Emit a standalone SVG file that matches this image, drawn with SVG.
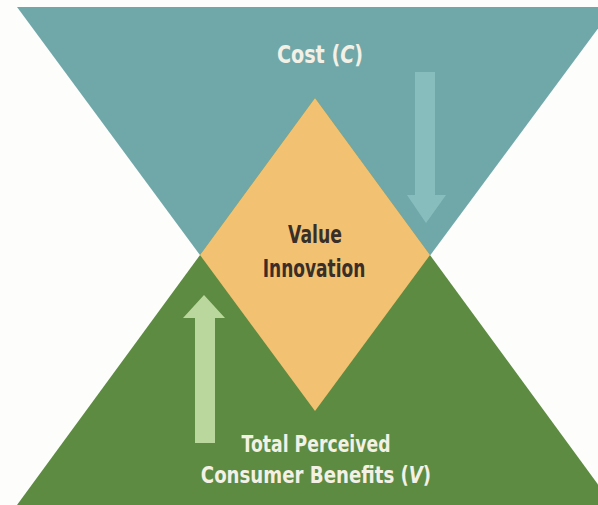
<svg xmlns="http://www.w3.org/2000/svg" width="598" height="505" viewBox="0 0 598 505">
  <style>
    .lbl { font-family: "DejaVu Sans", "Liberation Sans", sans-serif; font-weight: bold; text-anchor: middle; }
    .light { fill: #f3f0e6; }
    .dark { fill: #3a2e28; }
  </style>
  <rect x="0" y="0" width="598" height="505" fill="#fdfdfc"/>
  <g id="cost-triangle">
    <polygon points="17,7 614,7 315,411" fill="#70a8a9"/>
  </g>
  <g id="benefits-triangle">
    <polygon points="17,505 613,505 315,98" fill="#5c8b41"/>
  </g>
  <g id="value-innovation">
    <polygon points="315,98 430,255 315,411 200,255" fill="#f3c172"/>
    <text class="lbl dark" transform="translate(315,243) scale(0.72,1)" font-size="24">Value</text>
    <text class="lbl dark" transform="translate(314,277) scale(0.71,1)" font-size="24">Innovation</text>
  </g>
  <g id="cost-label">
    <text class="lbl light" transform="translate(320,63) scale(0.8,1)" font-size="24">Cost (<tspan font-style="italic">C</tspan>)</text>
  </g>
  <g id="benefits-label">
    <text class="lbl light" transform="translate(316,452) scale(0.75,1)" font-size="23">Total Perceived</text>
    <text class="lbl light" transform="translate(316,483) scale(0.79,1)" font-size="23">Consumer Benefits (<tspan font-style="italic">V</tspan>)</text>
  </g>
  <g id="connectors">
    <polygon points="415,72 435,72 435,195 446,195 426,223 407,195 415,195" fill="#8ec2c3" opacity="0.8"/>
    <polygon points="195,443 215,443 215,318 225,318 204,295 183,318 195,318" fill="#bad79d"/>
  </g>
</svg>
